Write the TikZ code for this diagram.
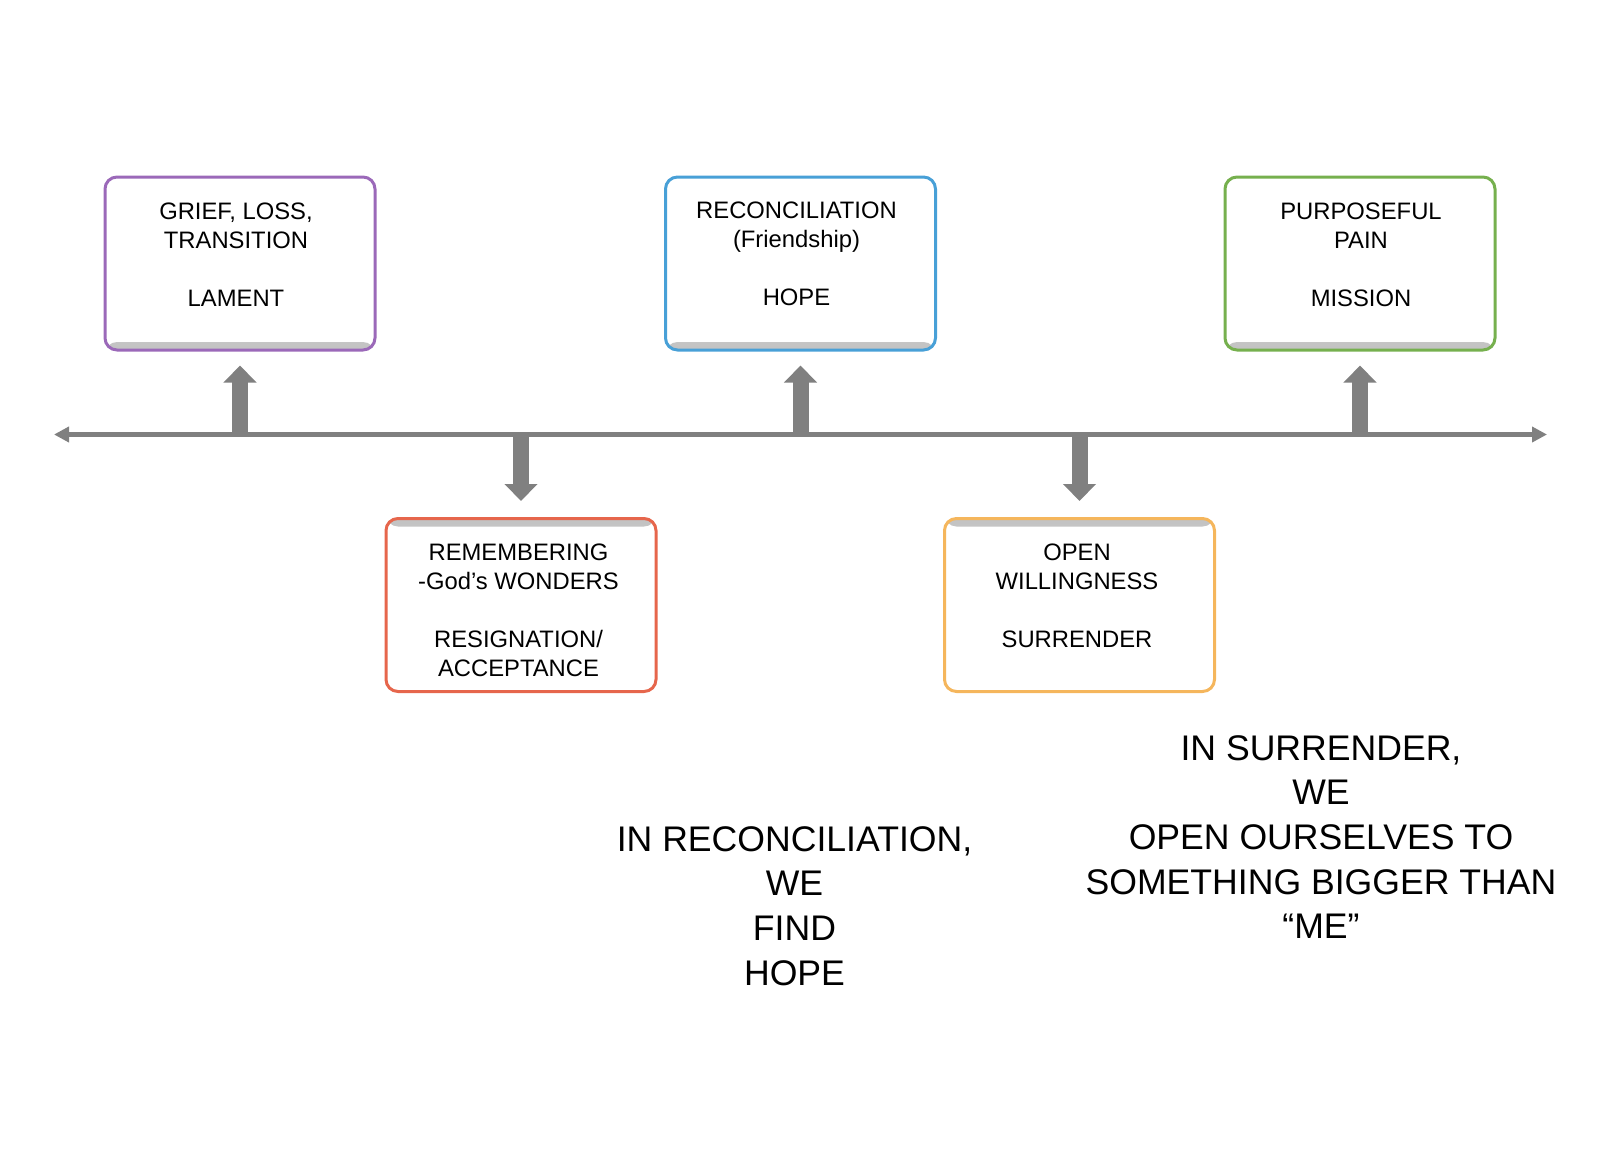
\documentclass[tikz,border=0pt]{standalone}
\usepackage{fontspec}
\setmainfont{Liberation Sans}
\usetikzlibrary{arrows.meta}
\definecolor{cpurple}{RGB}{155,105,185}
\definecolor{cblue}{RGB}{72,160,215}
\definecolor{cgreen}{RGB}{118,176,78}
\definecolor{cred}{RGB}{230,102,76}
\definecolor{corange}{RGB}{245,182,92}
\definecolor{cgray}{RGB}{128,128,128}
\begin{document}
\begin{tikzpicture}[x=0.5pt,y=-0.5pt,
  box/.style={draw=#1, line width=1.5pt, rounded corners=6pt,
    minimum width=135pt, minimum height=86.5pt, inner sep=0pt, fill=white},
  shadebottom/.style={path picture={\shade[top color=white, bottom color=black!24]
    ([yshift=4pt]path picture bounding box.south west) rectangle (path picture bounding box.south east);}},
  shadetop/.style={path picture={\shade[top color=black!24, bottom color=white]
    ([yshift=-4pt]path picture bounding box.north west) rectangle (path picture bounding box.north east);}},
  boxtext/.style={font=\fontsize{11.9}{14.5}\selectfont, align=center, inner sep=0pt, anchor=north},
  bigtext/.style={font=\fontsize{17.8}{22.3}\selectfont, align=center, inner sep=0pt, anchor=north},
  axisline/.style={draw=cgray, line width=2.5pt,
    {Triangle[width=7.5pt,length=7.5pt]}-{Triangle[width=7.5pt,length=7.5pt]}},
  fatarrow/.style={draw=cgray, line width=8pt, -{Triangle[width=16pt,length=8.5pt]}}
]
\useasboundingbox (0,0) rectangle (1600,1172);

% boxes
\node[box=cpurple, shadebottom] (b1) at (240,263.5) {};
\node[box=cblue, shadebottom] (b2) at (800.5,263.5) {};
\node[box=cgreen, shadebottom] (b3) at (1360,263.5) {};
\node[box=cred, shadetop] (b4) at (521,605) {};
\node[box=corange, shadetop] (b5) at (1079.5,605) {};

% box texts
\node[boxtext] (t1) at (236,202) {GRIEF, LOSS,\\TRANSITION\\[14.5pt]LAMENT};
\node[boxtext] (t2) at (796.5,201.5) {RECONCILIATION\\(Friendship)\\[14.5pt]HOPE};
\node[boxtext] (t3) at (1361,202) {PURPOSEFUL\\PAIN\\[14.5pt]MISSION};
\node[boxtext] (t4) at (518.5,543) {REMEMBERING\\-God’s WONDERS\\[14.5pt]RESIGNATION/\\ACCEPTANCE};
\node[boxtext] (t5) at (1077,543) {OPEN\\WILLINGNESS\\[14.5pt]SURRENDER};

% axis
\coordinate (axL) at (54,434.5);
\coordinate (axR) at (1547,434.5);
\draw[axisline] (axL) -- (axR);

% arrow roots on the axis
\coordinate (a1) at (240,434.5);
\coordinate (a2) at (800.5,434.5);
\coordinate (a3) at (1360,434.5);
\coordinate (a4) at (521,434.5);
\coordinate (a5) at (1079.5,434.5);

\draw[fatarrow, shorten >=7pt] (a1) -- (b1.south);
\draw[fatarrow, shorten >=7pt] (a2) -- (b2.south);
\draw[fatarrow, shorten >=7pt] (a3) -- (b3.south);
\draw[fatarrow, shorten >=8pt] (a4) -- (b4.north);
\draw[fatarrow, shorten >=8pt] (a5) -- (b5.north);

% big texts
\node[bigtext] (big1) at (794.5,826) {IN RECONCILIATION,\\WE\\FIND\\HOPE};
\node[bigtext] (big2) at (1321,735) {IN SURRENDER,\\WE\\OPEN OURSELVES TO\\SOMETHING BIGGER THAN\\“ME”};
\end{tikzpicture}
\end{document}
